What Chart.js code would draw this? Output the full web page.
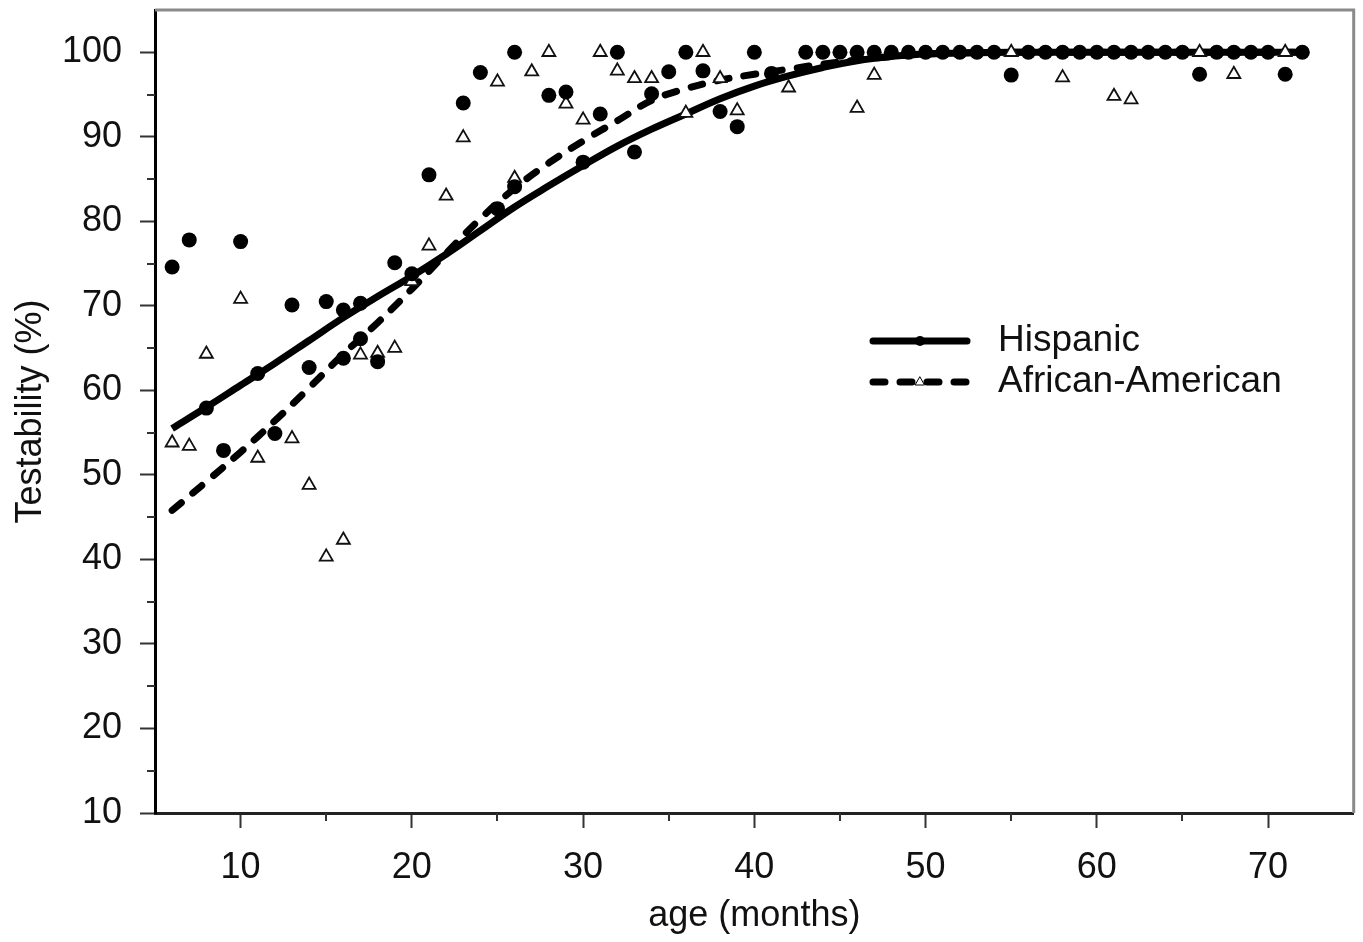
<!DOCTYPE html>
<html>
<head>
<meta charset="utf-8">
<script src="https://cdn.jsdelivr.net/npm/chart.js@4.4.0/dist/chart.umd.min.js"></script>
<style>
  html, body { margin: 0; padding: 0; background: #fff; }
  canvas { display: block; }
</style>
</head>
<body>
<canvas id="chart" width="1363" height="942"></canvas>
<script>
// Hispanic observations (filled circles)
const HISP_AGES = [6, 7, 8, 9, 10, 11, 12, 13, 14, 15, 16, 16, 17, 17, 18, 19, 20, 21, 23, 24,
  25, 26, 26, 28, 29, 30, 31, 32, 33, 34, 35, 36, 37, 38, 39, 40, 41,
  43, 44, 45, 46, 47, 48, 49, 50, 51, 52, 53, 54, 55, 56, 57, 58, 59, 60,
  61, 62, 63, 64, 65, 66, 67, 68, 69, 70, 71, 72];
const HISP_VALUES = [74.6, 77.8, 57.9, 52.9, 77.6, 62.0, 54.9, 70.1, 62.7, 70.5, 69.5, 63.8, 70.3, 66.1, 63.4, 75.1, 73.8, 85.5, 94.0, 97.6,
  81.5, 100, 84.1, 94.9, 95.3, 87.0, 92.7, 100, 88.2, 95.1, 97.7, 100, 97.8, 93.0, 91.2, 100, 97.5,
  100, 100, 100, 100, 100, 100, 100, 100, 100, 100, 100, 100, 97.3, 100, 100, 100, 100, 100,
  100, 100, 100, 100, 100, 97.4, 100, 100, 100, 100, 97.4, 100];

// African-American observations (open triangles)
const AA_AGES = [6, 7, 8, 10, 11, 13, 14, 15, 16, 17, 18, 19, 20, 21, 22, 23, 25, 26, 27, 28,
  29, 30, 31, 32, 33, 34, 36, 37, 38, 39, 42, 46, 47, 55, 58, 61, 62, 66, 68, 71];
const AA_VALUES = [53.8, 53.4, 64.3, 70.8, 52.0, 54.3, 48.8, 40.3, 42.3, 64.2, 64.4, 65.0, 72.9, 77.1, 83.0, 89.9, 96.5, 85.1, 97.7, 100,
  93.9, 92.0, 100, 97.8, 96.9, 96.9, 92.8, 100, 96.9, 93.1, 95.8, 93.4, 97.3, 100, 97.0, 94.8, 94.4, 100, 97.4, 100];

// fitted curves
const FIT_AGES = [6, 8, 10, 12, 14, 16, 18, 20, 22, 24, 26, 28, 30, 32, 34, 36, 38, 40, 42, 44, 46, 48, 50, 55, 60, 65, 72];
const HISP_FIT = [55.5, 58.0, 60.6, 63.2, 65.9, 68.6, 71.1, 73.5, 76.1, 78.9, 81.7, 84.2, 86.6, 88.9, 90.9, 92.7, 94.5, 96.0, 97.2, 98.2, 99.0, 99.5, 99.8, 100, 100, 100, 100];
const AA_FIT = [45.8, 49.2, 52.7, 56.4, 60.3, 64.3, 68.0, 72.0, 76.2, 80.3, 83.9, 86.9, 89.5, 91.9, 94.3, 95.7, 96.7, 97.4, 98.0, 98.6, 99.1, 99.5, 99.8, 100, 100, 100, 100];

const X_TICKS = [10, 20, 30, 40, 50, 60, 70];
const X_MINOR = [15, 25, 35, 45, 55, 65];
const Y_TICKS = [10, 20, 30, 40, 50, 60, 70, 80, 90, 100];
const Y_MINOR = [15, 25, 35, 45, 55, 65, 75, 85, 95];

const FONT = "'Liberation Sans', Arial, sans-serif";
const toPoints = (xs, ys) => xs.map((x, i) => ({ x: x, y: ys[i] }));

// short ticks between the labelled ones, and the grey frame on top/right
const minorTicks = {
  id: "minorTicks",
  afterDraw(chart) {
    const { ctx, chartArea, scales } = chart;
    ctx.save();
    ctx.strokeStyle = "#333";
    ctx.lineWidth = 2;
    ctx.beginPath();
    Y_MINOR.forEach((v) => {
      const y = Math.round(scales.y.getPixelForValue(v));
      ctx.moveTo(chartArea.left, y);
      ctx.lineTo(chartArea.left - 8, y);
    });
    X_MINOR.forEach((v) => {
      const x = Math.round(scales.x.getPixelForValue(v));
      ctx.moveTo(x, chartArea.bottom);
      ctx.lineTo(x, chartArea.bottom + 8);
    });
    ctx.stroke();
    ctx.strokeStyle = "#8a8a8a";
    ctx.lineWidth = 3;
    ctx.beginPath();
    ctx.moveTo(chartArea.left, chartArea.top);
    ctx.lineTo(chartArea.right, chartArea.top);
    ctx.lineTo(chartArea.right, chartArea.bottom);
    ctx.stroke();
    ctx.restore();
  },
};

// legend drawn inside the plot, line + symbol like the original
const fitLegend = {
  id: "fitLegend",
  afterDatasetsDraw(chart) {
    const { ctx, chartArea } = chart;
    const x0 = chartArea.left + 715;
    const x1 = x0 + 100;
    const rows = [
      { label: "Hispanic", y: chartArea.top + 331, dash: [], marker: "circle" },
      { label: "African-American", y: chartArea.top + 372, dash: [12, 15], marker: "triangle" },
    ];
    ctx.save();
    rows.forEach((r) => {
      ctx.strokeStyle = "#000";
      ctx.lineWidth = 7;
      ctx.lineCap = "round";
      ctx.setLineDash(r.dash);
      ctx.beginPath();
      ctx.moveTo(x0 + 3, r.y);
      ctx.lineTo(x1 - 3, r.y);
      ctx.stroke();
      ctx.setLineDash([]);
      const cx = (x0 + x1) / 2;
      if (r.marker === "circle") {
        ctx.fillStyle = "#000";
        ctx.beginPath();
        ctx.arc(cx, r.y, 5, 0, Math.PI * 2);
        ctx.fill();
      } else {
        ctx.fillStyle = "#fff";
        ctx.lineWidth = 1;
        ctx.beginPath();
        ctx.moveTo(cx, r.y - 5);
        ctx.lineTo(cx + 4.5, r.y + 3);
        ctx.lineTo(cx - 4.5, r.y + 3);
        ctx.closePath();
        ctx.fill();
        ctx.stroke();
      }
      ctx.fillStyle = "#111";
      ctx.font = "37px " + FONT;
      ctx.textAlign = "left";
      ctx.textBaseline = "middle";
      ctx.fillText(r.label, x1 + 28, r.y);
    });
    ctx.restore();
  },
};

new Chart(document.getElementById("chart"), {
  type: "scatter",
  data: {
    datasets: [
      {
        label: "Hispanic",
        data: toPoints(HISP_AGES, HISP_VALUES),
        pointStyle: "circle",
        pointRadius: 7.5,
        backgroundColor: "#000",
        borderColor: "#000",
        borderWidth: 0,
      },
      {
        label: "African-American",
        data: toPoints(AA_AGES, AA_VALUES),
        pointStyle: "triangle",
        pointRadius: 7.5,
        backgroundColor: "#fff",
        borderColor: "#111",
        borderWidth: 1.8,
      },
      {
        label: "Hispanic fit",
        type: "line",
        data: toPoints(FIT_AGES, HISP_FIT),
        borderColor: "#000",
        borderWidth: 7,
        pointRadius: 0,
        tension: 0.4,
        fill: false,
      },
      {
        label: "African-American fit",
        type: "line",
        data: toPoints(FIT_AGES, AA_FIT),
        borderColor: "#000",
        borderWidth: 7,
        borderDash: [12, 15],
        borderCapStyle: "round",
        pointRadius: 0,
        tension: 0.4,
        fill: false,
      },
    ],
  },
  options: {
    responsive: false,
    animation: false,
    devicePixelRatio: 1,
    layout: { padding: { top: 10, right: 6, left: 0, bottom: 0 } },
    plugins: {
      legend: { display: false },
      tooltip: { enabled: false },
    },
    scales: {
      x: {
        type: "linear",
        min: 5,
        max: 75,
        afterBuildTicks: (scale) => {
          scale.ticks = X_TICKS.map((v) => ({ value: v }));
        },
        afterFit: (scale) => {
          scale.height = 129;
          scale.paddingLeft = 0;
          scale.paddingRight = 0;
        },
        border: { display: true, color: "#222", width: 3 },
        grid: { drawOnChartArea: false, drawTicks: true, tickLength: 15, tickColor: "#333", tickWidth: 2 },
        ticks: {
          autoSkip: false,
          maxRotation: 0,
          padding: 18,
          color: "#111",
          font: { family: FONT, size: 36 },
        },
        title: {
          display: true,
          text: "age (months)",
          color: "#111",
          font: { family: FONT, size: 36 },
          padding: { top: 0, bottom: 4 },
        },
      },
      y: {
        type: "linear",
        min: 10,
        max: 105,
        afterBuildTicks: (scale) => {
          scale.ticks = Y_TICKS.map((v) => ({ value: v }));
        },
        afterFit: (scale) => {
          scale.width = 155;
          scale.paddingTop = 0;
          scale.paddingBottom = 0;
        },
        border: { display: true, color: "#000", width: 3 },
        grid: { drawOnChartArea: false, drawTicks: true, tickLength: 15, tickColor: "#333", tickWidth: 2 },
        ticks: {
          padding: 18,
          color: "#111",
          font: { family: FONT, size: 36 },
        },
        title: {
          display: true,
          text: "Testability (%)",
          color: "#111",
          font: { family: FONT, size: 36 },
          padding: { top: 9, bottom: 0 },
        },
      },
    },
  },
  plugins: [minorTicks, fitLegend],
});
</script>
</body>
</html>
